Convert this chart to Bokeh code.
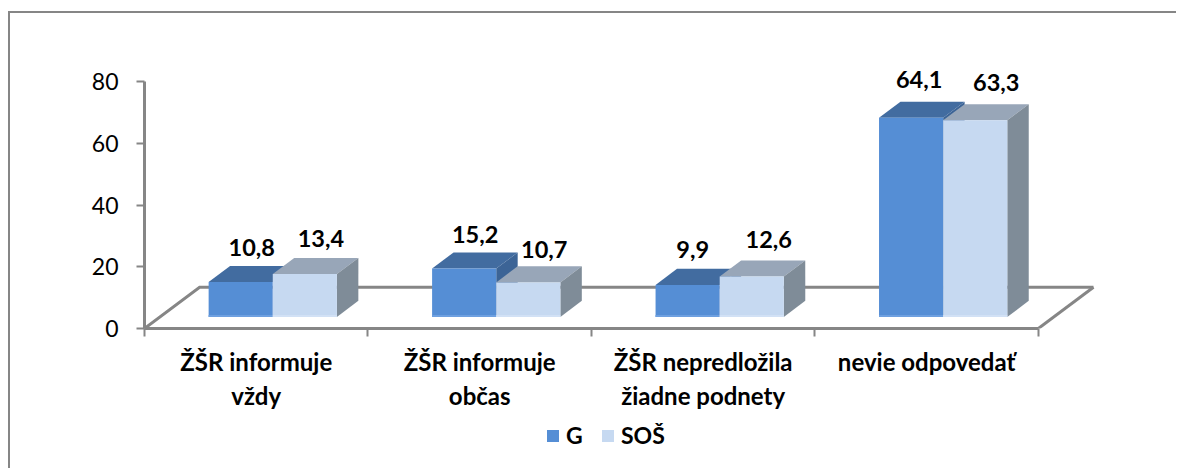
from bokeh.plotting import figure
from bokeh.embed import file_html
from bokeh.layouts import column
from bokeh.resources import INLINE
from bokeh.models import ColumnDataSource, LinearAxis, Range1d, FixedTicker, Legend, LegendItem
from bokeh.core.properties import value
import numpy as np

# ---- data
categories = ["ŽŠR informuje\nvždy", "ŽŠR informuje\nobčas", "ŽŠR nepredložila\nžiadne podnety", "nevie odpovedať"]
series_names = ["G", "SOŠ"]
g_values = [10.8, 15.2, 9.9, 64.1]
sos_values = [13.4, 10.7, 12.6, 63.3]
y_ticks = [0, 20, 40, 60, 80]

# ---- layout (pixels of the 3-D look)
FONT = "Lato"
GRAY = "#868686"
PX_X = 223.0            # pixels per category
PX_Y = 3.0625           # pixels per unit
depth_x = 21.4 / PX_X
depth_y = 16 / PX_Y
base = 11.5 / PX_Y      # front-face bottom above the axis
top_base = 13 / PX_Y    # value zero of the front-face top
bar_w = 64 / PX_X
bar_gap = 64 / PX_X     # left pad
floor_x = 55 / PX_X
floor_y = 41 / PX_Y
strip = 2 / PX_Y

g_label_dx = [11, 11, 5, 8]
g_label_dy = [19, 18, 19, 22]
s_label_dx = [16, 16, 17, 21]
s_label_dy = [20, 17, 21, 22]

p = figure(frame_width=960, frame_height=306, width=1169, height=407,
           x_range=Range1d(0, 960 / PX_X), y_range=Range1d(0, 306 / PX_Y),
           output_backend="svg", toolbar_location=None,
           x_axis_type=None, y_axis_type=None,
           min_border_left=134, min_border_top=7, min_border_right=72, min_border_bottom=5,
           background_fill_color="white", border_fill_color="white", outline_line_color=None,
           margin=(11, 0, 0, 8),
           styles={"border-left": "2px solid #868686", "border-top": "2px solid #868686"})
p.grid.visible = False

yax = LinearAxis(ticker=FixedTicker(ticks=y_ticks), bounds=(0, 80))
yax.axis_line_color = GRAY; yax.axis_line_width = 3
yax.major_tick_line_color = GRAY; yax.major_tick_line_width = 2
yax.major_tick_in = 0; yax.major_tick_out = 8; yax.minor_tick_out = 0; yax.minor_tick_in = 0
yax.major_label_text_font = FONT; yax.major_label_text_font_size = "23px"
yax.major_label_text_color = "#000000"; yax.major_label_standoff = 18
p.add_layout(yax, "left")

n = len(categories)
xax = LinearAxis(ticker=FixedTicker(ticks=[i + 0.5 for i in range(n)], minor_ticks=list(range(n + 1))),
                 bounds=(0, n))
xax.axis_line_color = GRAY; xax.axis_line_width = 3
xax.major_tick_in = 0; xax.major_tick_out = 0
xax.minor_tick_in = 0; xax.minor_tick_out = 8
xax.minor_tick_line_color = GRAY; xax.minor_tick_line_width = 2
xax.major_label_overrides = {i + 0.5: c for i, c in enumerate(categories)}
xax.major_label_text_font = FONT; xax.major_label_text_font_size = "24px"
xax.major_label_text_font_style = "bold"; xax.major_label_text_color = "#000000"
xax.major_label_standoff = 10
p.add_layout(xax, "below")

# floor
p.line([0, floor_x, n + floor_x], [0, floor_y, floor_y], line_color=GRAY, line_width=3, line_join="miter")
p.line([n, n + floor_x], [0, floor_y], line_color=GRAY, line_width=3)

G_COLORS = ("#558ED5", "#426CA0", "#3C6496", "#6EA0E0")
S_COLORS = ("#C6D9F1", "#98A6B8", "#7F8C98", "#D2E1F5")

def draw(vals, off, front, top, side, low):
    l = np.arange(n) + off
    r = l + bar_w
    t = np.array(vals, float) + top_base
    xs_top = [[a, b, b + depth_x, a + depth_x] for a, b in zip(l, r)]
    ys_top = [[c, c, c + depth_y, c + depth_y] for c in t]
    xs_side = [[b, b + depth_x, b + depth_x, b] for b in r]
    ys_side = [[base, base + depth_y, c + depth_y, c] for c in t]
    p.patches(xs_top, ys_top, fill_color=top, line_color=None)
    p.patches(xs_side, ys_side, fill_color=side, line_color=None)
    p.quad(left=l, right=r, bottom=[base] * n, top=t, fill_color=front, line_color=None)
    p.quad(left=l, right=r, bottom=[base] * n, top=[base + strip] * n, fill_color=low, line_color=None)

draw(g_values, bar_gap, *G_COLORS)
draw(sos_values, bar_gap + bar_w, *S_COLORS)

def labels(vals, off, dx, dy):
    src = ColumnDataSource(dict(
        x=np.arange(n) + off + bar_w / 2,
        y=np.array(vals, float) + top_base + depth_y,
        t=[f"{v:.1f}".replace(".", ",") for v in vals],
        dx=dx, dy=[-d for d in dy]))
    p.text(x="x", y="y", text="t", x_offset="dx", y_offset="dy", source=src,
           text_font=value(FONT), text_font_style="bold", text_font_size="23.5px",
           text_color="#000000", text_align="center", text_baseline="middle")

labels(g_values, bar_gap, g_label_dx, g_label_dy)
labels(sos_values, bar_gap + bar_w, s_label_dx, s_label_dy)

# legend strip: its own figure, so the legend is not clipped by the plot frame
p2 = figure(width=1169, height=57, x_range=Range1d(0, 1167), y_range=Range1d(0, 57),
            output_backend="svg", toolbar_location=None, x_axis_type=None, y_axis_type=None,
            min_border=0, background_fill_color="white", border_fill_color="white",
            outline_line_color=None, margin=(0, 0, 0, 8),
            styles={"border-left": "2px solid #868686"})
p2.grid.visible = False
# keys only: kept off the visible range, they give the legend its colour swatches
key_g = p2.quad(left=[-9], right=[-8], bottom=[-9], top=[-8], fill_color=G_COLORS[0], line_color=None)
key_s = p2.quad(left=[-9], right=[-8], bottom=[-9], top=[-8], fill_color=S_COLORS[0], line_color=None)
leg = Legend(items=[LegendItem(label=value(series_names[0]), renderers=[key_g]),
                    LegendItem(label=value(series_names[1]), renderers=[key_s])],
             orientation="horizontal", location=(401, 19), padding=0, margin=0,
             spacing=14, glyph_width=15, glyph_height=15, label_standoff=6,
             background_fill_alpha=0, border_line_color=None,
             label_text_font=FONT, label_text_font_size="23px", label_text_font_style="bold",
             label_text_color="#000000")
p2.add_layout(leg, "center")

page = column(p, p2, spacing=0)
open("out.html", "w").write(file_html(page, INLINE))
